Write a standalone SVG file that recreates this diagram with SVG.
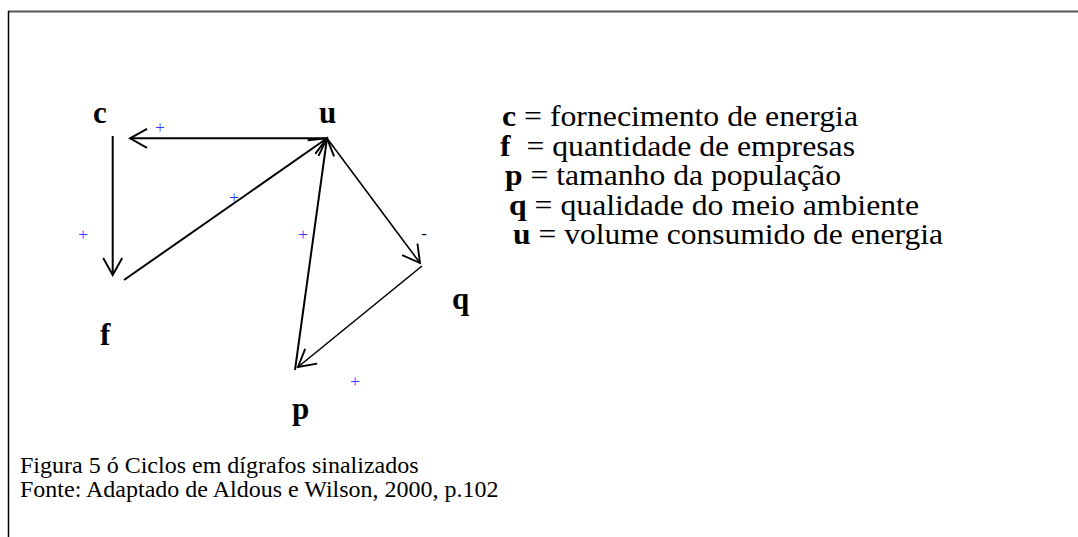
<svg xmlns="http://www.w3.org/2000/svg" width="1078" height="537" viewBox="0 0 1078 537">
<style>
.t{font-family:"Liberation Serif","Times New Roman",serif;fill:#000}
.lg{font-size:29.5px}
.nd{font-size:31px;font-weight:bold}
.cap{font-size:24px}
.pl{font-family:"Liberation Serif","Times New Roman",serif;font-size:17px;fill:#3535ff}
.ln{fill:none;stroke:#000;stroke-width:2;marker-end:url(#ah)}
.ln2{fill:none;stroke:#000;stroke-width:1.6;marker-end:url(#ah)}
</style>
<defs>
<marker id="ah" viewBox="-20 -11 22 22" refX="0" refY="0" markerWidth="22" markerHeight="22" markerUnits="userSpaceOnUse" orient="auto">
<path d="M-17,-9.5 L0,0 L-17,9.5" fill="none" stroke="#000" stroke-width="1.9"/>
</marker>
</defs>
<rect width="1078" height="537" fill="#fff"/>
<g id="frame">
<line x1="8" y1="11.5" x2="1078" y2="11.5" stroke="#555" stroke-width="2"/>
<line x1="8.5" y1="11" x2="8.5" y2="537" stroke="#000" stroke-width="1.5"/>
</g>
<g id="connectors">
<line class="ln" x1="327" y1="138.3" x2="130" y2="138.3"/>
<line class="ln" x1="112.7" y1="136" x2="112.7" y2="275"/>
<line class="ln" x1="124" y1="280" x2="327" y2="138.3"/>
<line class="ln2" x1="327" y1="138.3" x2="420" y2="263"/>
<line class="ln2" x1="422" y1="266" x2="298" y2="367"/>
<line class="ln" x1="295" y1="370" x2="327" y2="138.3"/>
<text class="pl" x="160" y="133" text-anchor="middle">+</text>
<text class="pl" x="234" y="203" text-anchor="middle">+</text>
<text class="pl" x="83" y="240" text-anchor="middle">+</text>
<text class="pl" x="303" y="240" text-anchor="middle">+</text>
<text class="pl" x="355" y="387" text-anchor="middle">+</text>
<text class="t" style="font-size:17px" x="424" y="239" text-anchor="middle">-</text>
</g>
<g id="node-c"><text class="t nd" x="93" y="123">c</text></g>
<g id="node-u"><text class="t nd" x="319" y="123">u</text></g>
<g id="node-f"><text class="t nd" x="100" y="345">f</text></g>
<g id="node-q"><text class="t nd" x="452" y="309">q</text></g>
<g id="node-p"><text class="t nd" x="292" y="419">p</text></g>
<g id="legend">
<text class="t lg" x="502" y="126" textLength="356" lengthAdjust="spacingAndGlyphs"><tspan font-weight="bold">c</tspan> = fornecimento de energia</text>
<text class="t lg" xml:space="preserve" x="500" y="155.5" textLength="355" lengthAdjust="spacingAndGlyphs"><tspan font-weight="bold">f</tspan>  = quantidade de empresas</text>
<text class="t lg" x="505" y="185" textLength="336" lengthAdjust="spacingAndGlyphs"><tspan font-weight="bold">p</tspan> = tamanho da população</text>
<text class="t lg" x="509" y="214.5" textLength="410" lengthAdjust="spacingAndGlyphs"><tspan font-weight="bold">q</tspan> = qualidade do meio ambiente</text>
<text class="t lg" x="513" y="244" textLength="430" lengthAdjust="spacingAndGlyphs"><tspan font-weight="bold">u</tspan> = volume consumido de energia</text>
</g>
<g id="caption">
<text class="t cap" x="20" y="473">Figura 5 ó Ciclos em dígrafos sinalizados</text>
<text class="t cap" x="20" y="497">Fonte: Adaptado de Aldous e Wilson, 2000, p.102</text>
</g>
</svg>
